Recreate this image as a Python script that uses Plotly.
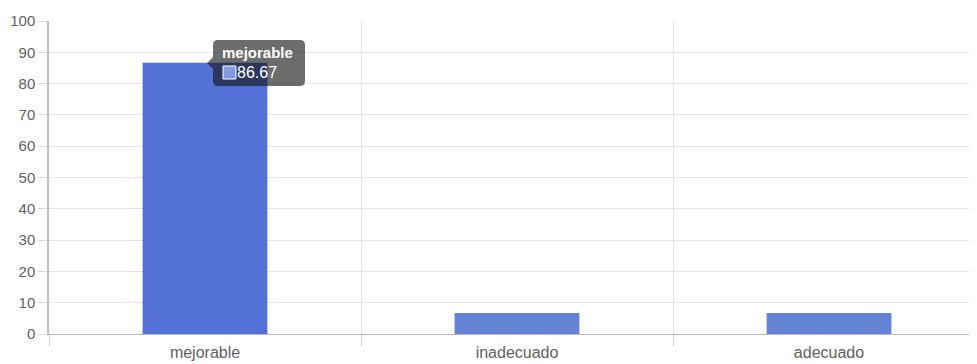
import plotly.graph_objects as go

categories = ["mejorable", "inadecuado", "adecuado"]
values = [86.67, 6.67, 6.67]
y_ticks = [0, 10, 20, 30, 40, 50, 60, 70, 80, 90, 100]

bar_colors = ["rgb(84,113,215)", "rgb(101,131,213)", "rgb(101,131,213)"]

fig = go.Figure()
fig.add_trace(go.Bar(
    x=categories, y=values, width=0.4,
    marker=dict(color=bar_colors, line=dict(width=0)),
    hoverinfo="skip",
))

# page offset (body margin 8px)
OFF = 8
W = 969; H = 356
ml, mr, mt, mb = 41, 0, 13, 30
pw = W - ml - mr
ph = H - mt - mb
xr = [-0.5, -0.5 + pw / 312.0]

def px2x(px):
    return xr[0] + (px - OFF - ml) / pw * (xr[1] - xr[0])

def py2y(py):
    return (H - mb - (py - OFF)) / ph * 100.0

x0, x1 = px2x(213), px2x(305)
y0, y1 = py2y(86), py2y(40)
rx = (xr[1] - xr[0]) / pw * 5
ry = 100.0 / ph * 5
cx = px2x(207); cy = py2y(63)
path = (f"M {x0+rx},{y1} L {x1-rx},{y1} Q {x1},{y1} {x1},{y1-ry} "
        f"L {x1},{y0+ry} Q {x1},{y0} {x1-rx},{y0} L {x0+rx},{y0} "
        f"Q {x0},{y0} {x0},{y0+ry} L {x0},{py2y(57)} L {cx},{cy} L {x0},{py2y(69)} "
        f"L {x0},{y1-ry} Q {x0},{y1} {x0+rx},{y1} Z")
fig.add_shape(type="path", path=path, xref="x", yref="y",
              fillcolor="rgba(20,20,20,0.62)", line=dict(width=0), layer="above")
fig.add_shape(type="rect", xref="x", yref="y",
              x0=px2x(223), x1=px2x(236), y0=py2y(79), y1=py2y(66),
              fillcolor="rgb(128,155,225)", line=dict(color="white", width=1), layer="above")
fig.add_annotation(x=px2x(220), y=py2y(52), xref="x", yref="y", text=f"<b>{categories[0]}</b>",
                   showarrow=False, xanchor="left", yanchor="middle",
                   font=dict(family="Liberation Sans, Arial", size=15, color="white"))
fig.add_annotation(x=px2x(235), y=py2y(72.5), xref="x", yref="y", text=f"{values[0]:.2f}",
                   showarrow=False, xanchor="left", yanchor="middle",
                   font=dict(family="Liberation Sans, Arial", size=16, color="white"))

fig.update_layout(
    width=W, height=H,
    margin=dict(l=ml, r=mr, t=mt, b=mb),
    paper_bgcolor="white", plot_bgcolor="white",
    showlegend=False,
    font=dict(family="Liberation Sans, Arial", size=15, color="#606060"),
    bargap=0.6,
)
fig.update_xaxes(
    range=xr, tickson="boundaries", showgrid=True, gridcolor="#e3e3e3", gridwidth=1,
    ticks="outside", ticklen=11, tickcolor="#d0d0d0", ticklabelstandoff=4,
    showline=True, linecolor="#b8b8b8", linewidth=1,
    tickfont=dict(size=16, color="#606060"),
)
fig.update_yaxes(
    range=[0, 100], tickvals=y_ticks, showgrid=True, gridcolor="#e6e6e6", gridwidth=1,
    ticks="outside", ticklen=9, tickcolor="#d8d8d8",
    showline=True, linecolor="#c0c0c0", linewidth=1.5,
    zeroline=False, tickfont=dict(size=15, color="#606060"),
)

fig.write_html("out.html")
